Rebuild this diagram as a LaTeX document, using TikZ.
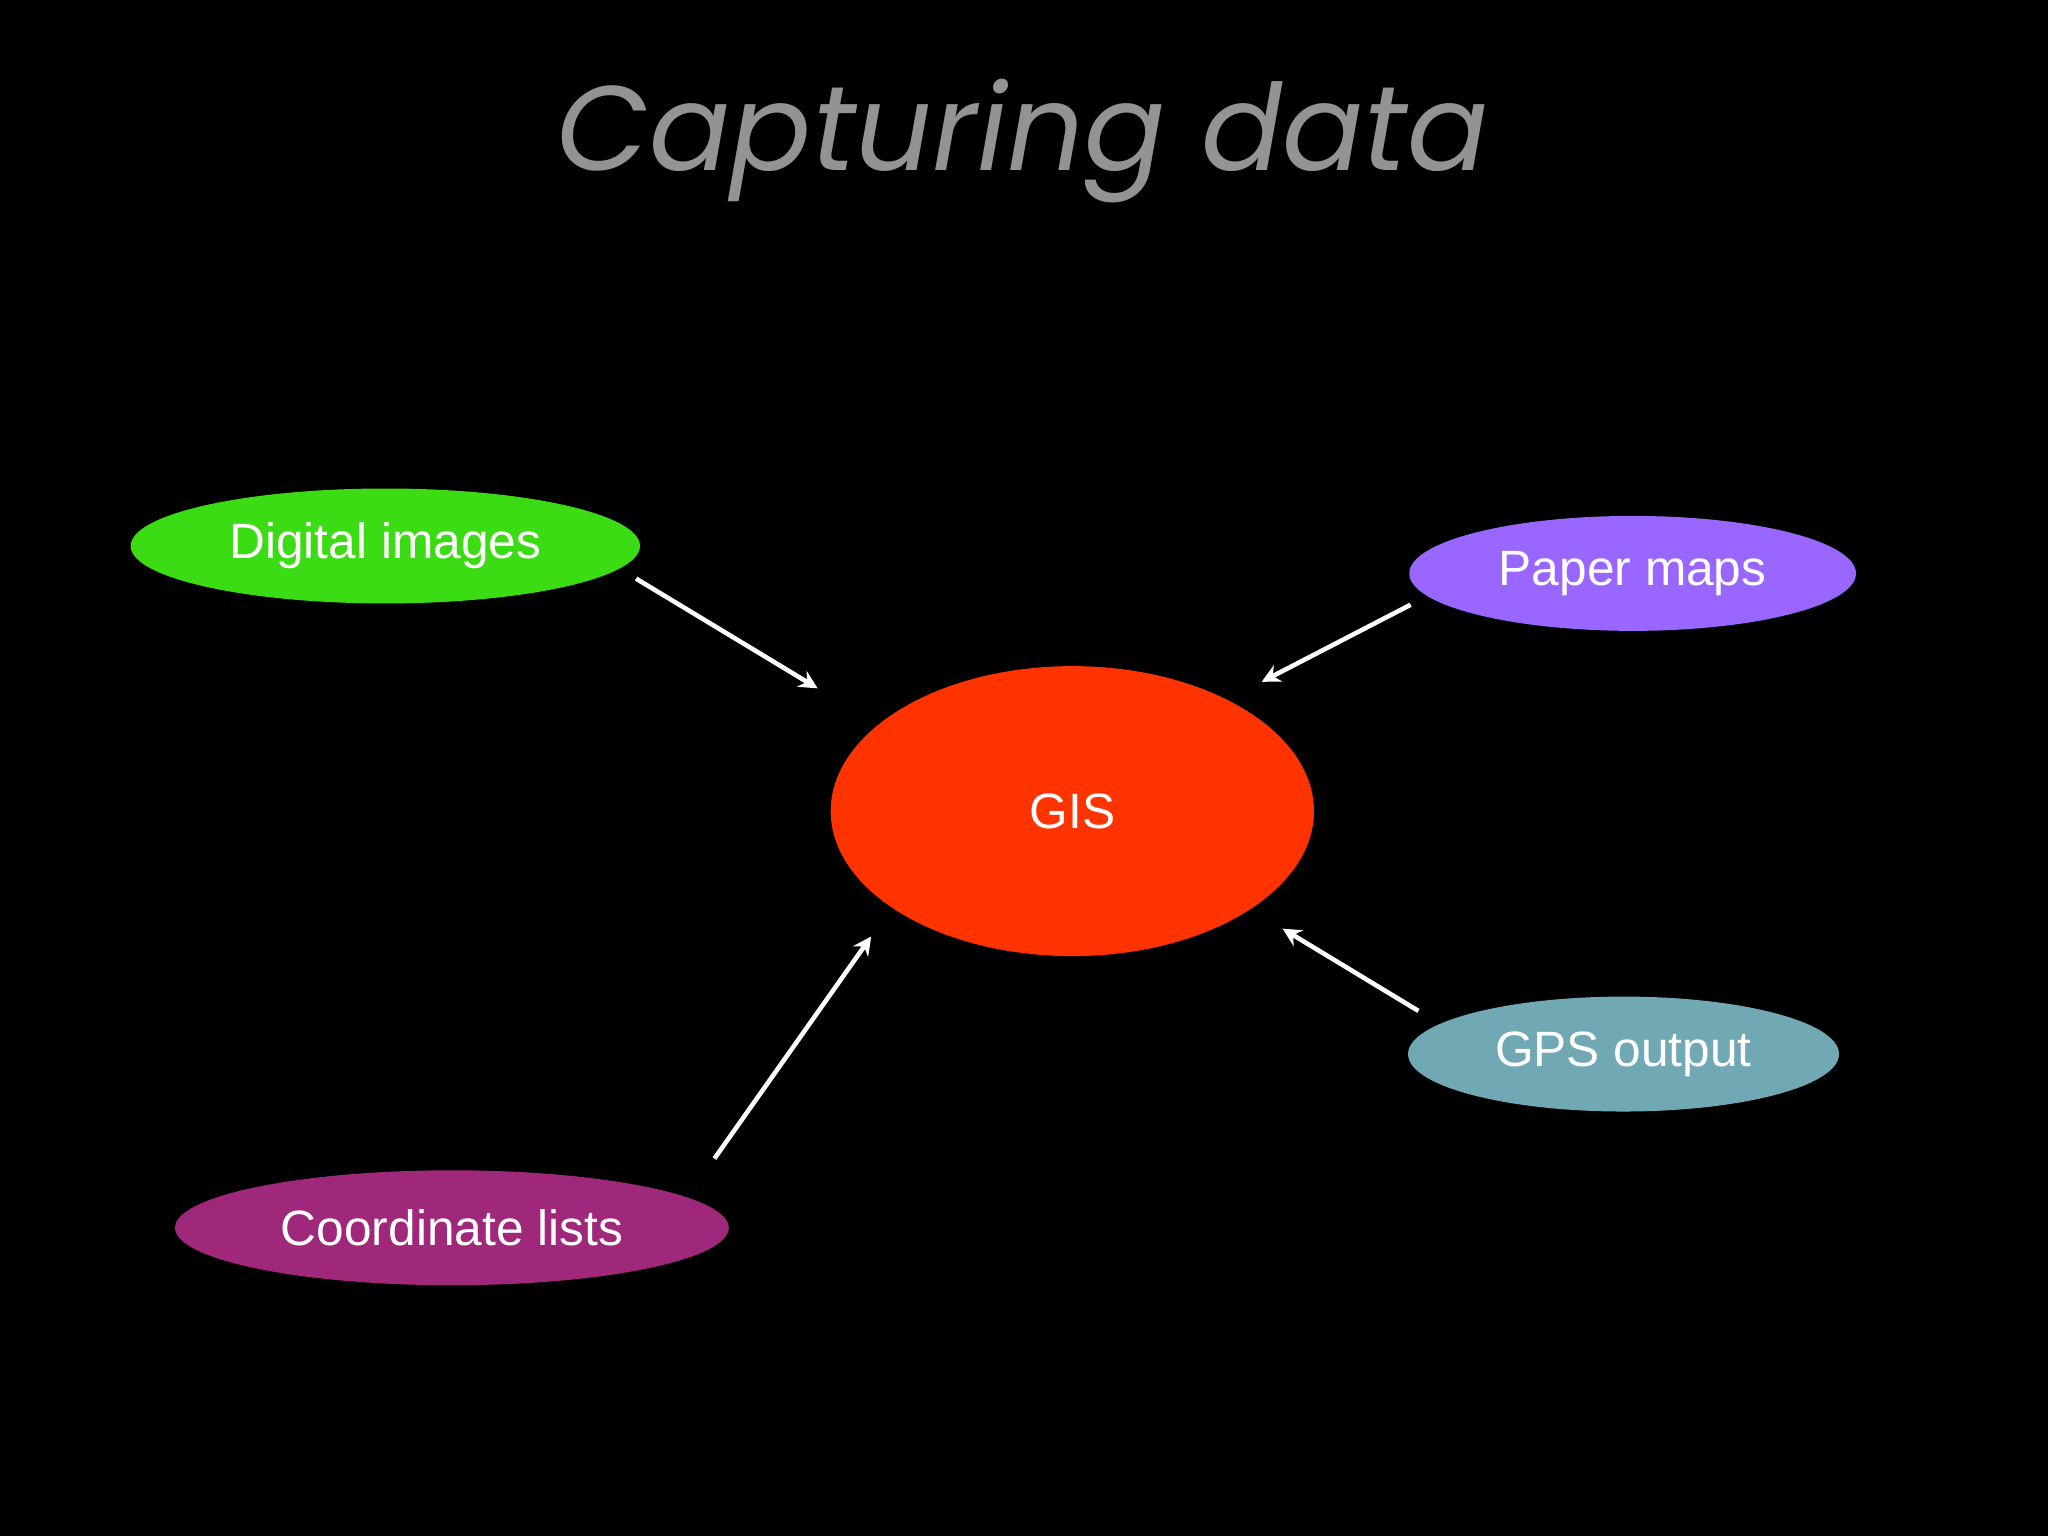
\documentclass[tikz,border=0pt]{standalone}
\usepackage{fontspec}
\setmainfont{Liberation Sans}
\newfontfamily\titlefont{Poppins}
\usetikzlibrary{shapes.geometric,arrows.meta}
\definecolor{cgreen}{HTML}{3CDC14}
\definecolor{cpurple}{HTML}{9966FF}
\definecolor{cred}{HTML}{FF3300}
\definecolor{cteal}{HTML}{70A8B4}
\definecolor{cmag}{HTML}{A0287A}
\begin{document}
\begin{tikzpicture}[x=1pt,y=-1pt,
  blob/.style={ellipse,inner sep=0pt,text=white,font=\fontsize{38}{40}\selectfont},
  arr/.style={draw=white,line width=3.5pt,-{Stealth[length=14pt,width=14pt]}}]
\fill[black] (0,0) rectangle (1568,1176);
\useasboundingbox (0,0) rectangle (1568,1176);
\node[text=gray!85,font=\titlefont\itshape\fontsize{92}{100}\selectfont] (title) at (783,108) {Capturing data};
\node[blob,fill=cgreen,minimum width=390,minimum height=88] (dig) at (295,418) {Digital images};
\node[blob,fill=cpurple,minimum width=342,minimum height=88] (pap) at (1250,439) {Paper maps};
\node[blob,fill=cred,minimum width=370,minimum height=222] (gis) at (821,621) {GIS};
\node[blob,fill=cteal,minimum width=330,minimum height=88] (gps) at (1243,807) {GPS output};
\node[blob,fill=cmag,minimum width=424,minimum height=88] (coo) at (346,940) {Coordinate lists};
\coordinate (a1s) at (487,443); \coordinate (a1e) at (626,527);
\coordinate (a2s) at (1080,463); \coordinate (a2e) at (966,522);
\coordinate (a3s) at (1086,774); \coordinate (a3e) at (982,711);
\coordinate (a4s) at (547,887); \coordinate (a4e) at (667,717);
\draw[arr] (a1s) -- (a1e);
\draw[arr] (a2s) -- (a2e);
\draw[arr] (a3s) -- (a3e);
\draw[arr] (a4s) -- (a4e);
\end{tikzpicture}
\end{document}
